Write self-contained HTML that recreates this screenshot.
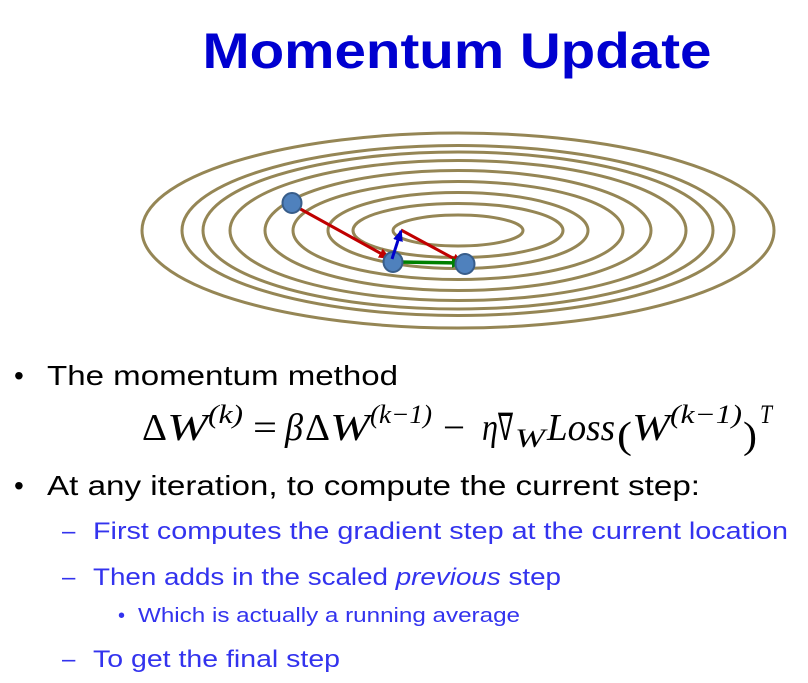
<!DOCTYPE html>
<html><head><meta charset="utf-8"><style>
html,body{margin:0;padding:0;background:#fff;}
svg{display:block;}
text{font-family:"Liberation Sans",sans-serif;}
.m{font-family:"Liberation Serif",serif;font-style:italic;font-size:38px;fill:#000;}
.u{font-family:"Liberation Serif",serif;font-style:normal;font-size:38px;fill:#000;}
.ms{font-family:"Liberation Serif",serif;font-style:italic;font-size:26px;fill:#000;}
</style></head><body>
<svg width="808" height="683" viewBox="0 0 808 683">
<defs>
<marker id="ar" markerWidth="12" markerHeight="10" refX="10" refY="5" orient="auto" markerUnits="userSpaceOnUse"><path d="M0,0 L12,5 L0,10 z" fill="#c00000"/></marker>
<marker id="ab" markerWidth="12" markerHeight="10" refX="10" refY="5" orient="auto" markerUnits="userSpaceOnUse"><path d="M0,0 L12,5 L0,10 z" fill="#0000cc"/></marker>
<marker id="ag" markerWidth="12" markerHeight="10" refX="10" refY="5" orient="auto" markerUnits="userSpaceOnUse"><path d="M0,0 L12,5 L0,10 z" fill="#008000"/></marker>
</defs>
<text x="457" y="68" text-anchor="middle" font-size="50" font-weight="bold" fill="#0000d0" textLength="509" lengthAdjust="spacingAndGlyphs">Momentum Update</text>

<g fill="none" stroke="#958655" stroke-width="3">
<ellipse cx="458" cy="230.5" rx="316" ry="97.5"/>
<ellipse cx="458" cy="230.5" rx="276" ry="85"/>
<ellipse cx="458" cy="230.5" rx="255" ry="78.5"/>
<ellipse cx="458" cy="230.5" rx="228" ry="70"/>
<ellipse cx="458" cy="230.5" rx="193" ry="60"/>
<ellipse cx="458" cy="230.5" rx="165" ry="49"/>
<ellipse cx="458" cy="230.5" rx="130" ry="38"/>
<ellipse cx="458" cy="230.5" rx="105" ry="27"/>
<ellipse cx="458" cy="230.5" rx="65" ry="15.5"/>
</g>
<line x1="295" y1="206" x2="389" y2="258" stroke="#c00000" stroke-width="3" marker-end="url(#ar)"/>
<line x1="401" y1="230" x2="462" y2="263" stroke="#c00000" stroke-width="3" marker-end="url(#ar)"/>
<line x1="398" y1="262" x2="462" y2="263" stroke="#008000" stroke-width="3.5" marker-end="url(#ag)"/>
<ellipse cx="292" cy="203" rx="9.5" ry="10" fill="#4f81bd" stroke="#385d8a" stroke-width="2"/>
<ellipse cx="393" cy="262" rx="9.5" ry="10" fill="#4f81bd" stroke="#385d8a" stroke-width="2"/>
<ellipse cx="465" cy="264" rx="9.5" ry="10" fill="#4f81bd" stroke="#385d8a" stroke-width="2"/>
<line x1="392" y1="259" x2="401" y2="231" stroke="#0000cc" stroke-width="3" marker-end="url(#ab)"/>

<text x="14" y="385" font-size="28">•</text>
<text x="47" y="385" font-size="28" textLength="351" lengthAdjust="spacingAndGlyphs">The momentum method</text>

<g>
<text class="u" x="142" y="440" textLength="25" lengthAdjust="spacingAndGlyphs">Δ</text>
<text class="m" x="167" y="440" textLength="41" lengthAdjust="spacingAndGlyphs">W</text>
<text class="ms" x="208" y="423" textLength="35" lengthAdjust="spacingAndGlyphs">(k)</text>
<text class="u" x="253" y="440" textLength="24" lengthAdjust="spacingAndGlyphs">=</text>
<text class="m" x="285" y="440" textLength="18" lengthAdjust="spacingAndGlyphs">β</text>
<text class="u" x="305" y="440" textLength="25" lengthAdjust="spacingAndGlyphs">Δ</text>
<text class="m" x="330" y="440" textLength="40" lengthAdjust="spacingAndGlyphs">W</text>
<text class="ms" x="370" y="423" textLength="62" lengthAdjust="spacingAndGlyphs">(k−1)</text>
<text class="u" x="443" y="440" textLength="22" lengthAdjust="spacingAndGlyphs">−</text>
<text class="m" x="482" y="440" textLength="16" lengthAdjust="spacingAndGlyphs">η</text>
<text class="u" x="498" y="440" textLength="15" lengthAdjust="spacingAndGlyphs">∇</text>
<text class="ms" x="515" y="447" textLength="30" lengthAdjust="spacingAndGlyphs">W</text>
<text class="m" x="547" y="440" textLength="68" lengthAdjust="spacingAndGlyphs">Loss</text>
<text class="u" x="617" y="448" font-size="50" textLength="15" lengthAdjust="spacingAndGlyphs">(</text>
<text class="m" x="632" y="440" textLength="38" lengthAdjust="spacingAndGlyphs">W</text>
<text class="ms" x="670" y="423" textLength="72" lengthAdjust="spacingAndGlyphs">(k−1)</text>
<text class="u" x="743" y="448" font-size="50" textLength="14" lengthAdjust="spacingAndGlyphs">)</text>
<text class="ms" x="760" y="423" font-size="20" textLength="12" lengthAdjust="spacingAndGlyphs">T</text>
</g>

<text x="14" y="495" font-size="28">•</text>
<text x="47" y="495" font-size="28" textLength="653" lengthAdjust="spacingAndGlyphs">At any iteration, to compute the current step:</text>

<g fill="#3333ee">
<text x="62" y="539" font-size="24">–</text>
<text x="93" y="539" font-size="24" textLength="695" lengthAdjust="spacingAndGlyphs">First computes the gradient step at the current location</text>
<text x="62" y="585" font-size="24">–</text>
<text x="93" y="585" font-size="24" textLength="468" lengthAdjust="spacingAndGlyphs">Then adds in the scaled <tspan font-style="italic">previous</tspan> step</text>
<text x="118" y="622" font-size="20">•</text>
<text x="138" y="622" font-size="20" textLength="382" lengthAdjust="spacingAndGlyphs">Which is actually a running average</text>
<text x="62" y="667" font-size="24">–</text>
<text x="93" y="667" font-size="24" textLength="247" lengthAdjust="spacingAndGlyphs">To get the final step</text>
</g>
</svg>
</body></html>
